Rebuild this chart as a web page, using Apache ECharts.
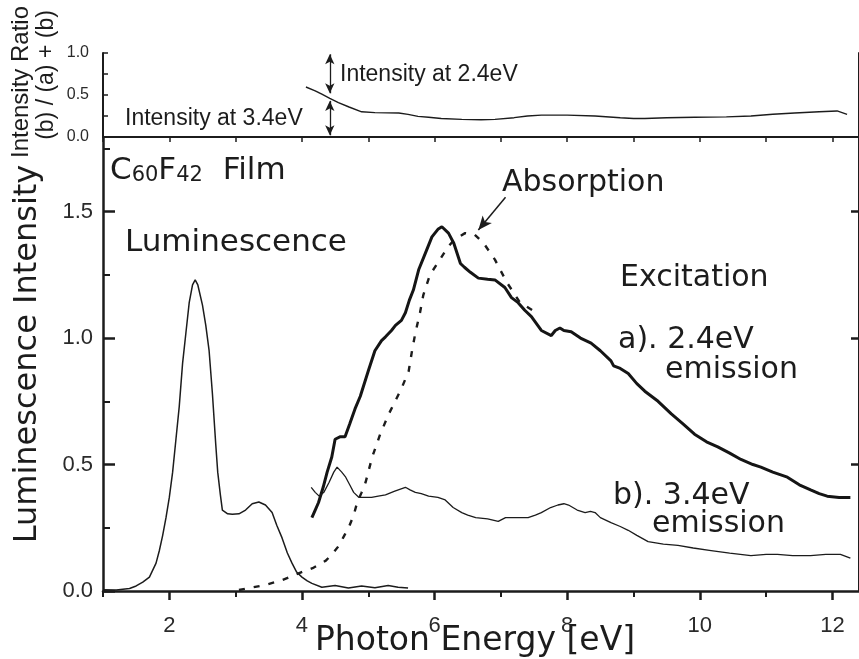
<!DOCTYPE html>
<html><head><meta charset="utf-8">
<script src="https://cdn.jsdelivr.net/npm/echarts@6/dist/echarts.min.js"></script>
<style>html,body{margin:0;padding:0;background:#fff}#c{width:859px;height:659px}</style>
</head><body><div id="c"></div>
<script>
// ---- data (photon energy [eV], intensity) ----
const luminescence = [[1.0,0.005],[1.2,0.004],[1.4,0.01],[1.5,0.02],[1.6,0.035],[1.7,0.055],[1.8,0.11],[1.85,0.16],[1.9,0.22],[1.95,0.29],[2.0,0.37],[2.05,0.47],[2.1,0.6],[2.15,0.73],[2.2,0.9],[2.25,1.02],[2.3,1.14],[2.35,1.21],[2.39,1.23],[2.43,1.21],[2.5,1.13],[2.55,1.05],[2.6,0.95],[2.65,0.78],[2.7,0.58],[2.73,0.47],[2.77,0.38],[2.8,0.32],[2.88,0.305],[2.95,0.303],[3.05,0.305],[3.15,0.32],[3.25,0.345],[3.35,0.352],[3.45,0.34],[3.55,0.31],[3.62,0.26],[3.7,0.21],[3.78,0.15],[3.85,0.11],[3.92,0.075],[4.0,0.055],[4.08,0.04],[4.15,0.03],[4.3,0.015],[4.5,0.022],[4.7,0.012],[4.9,0.02],[5.1,0.013],[5.3,0.022],[5.45,0.015],[5.6,0.012]];
const excitationA = [[4.15,0.29],[4.2,0.32],[4.25,0.35],[4.32,0.41],[4.38,0.47],[4.45,0.53],[4.5,0.6],[4.58,0.61],[4.65,0.61],[4.72,0.66],[4.8,0.72],[4.88,0.77],[5.0,0.87],[5.1,0.95],[5.2,0.99],[5.26,1.005],[5.35,1.03],[5.41,1.05],[5.5,1.07],[5.56,1.10],[5.62,1.15],[5.68,1.19],[5.76,1.27],[5.86,1.335],[5.96,1.40],[6.05,1.43],[6.11,1.44],[6.21,1.415],[6.29,1.375],[6.39,1.295],[6.45,1.28],[6.54,1.26],[6.66,1.237],[6.8,1.233],[6.91,1.23],[7.06,1.20],[7.16,1.16],[7.26,1.14],[7.36,1.11],[7.46,1.085],[7.61,1.03],[7.76,1.01],[7.82,1.03],[7.89,1.04],[7.95,1.03],[8.06,1.025],[8.2,1.0],[8.36,0.98],[8.5,0.95],[8.66,0.91],[8.7,0.89],[8.8,0.88],[8.92,0.86],[9.05,0.82],[9.17,0.79],[9.37,0.75],[9.57,0.70],[9.75,0.66],[9.92,0.62],[10.1,0.59],[10.27,0.57],[10.45,0.545],[10.62,0.52],[10.8,0.5],[10.92,0.49],[11.1,0.47],[11.32,0.45],[11.5,0.42],[11.67,0.40],[11.8,0.385],[11.92,0.375],[12.1,0.37],[12.27,0.37]];
const excitationB = [[4.14,0.41],[4.2,0.39],[4.26,0.375],[4.33,0.39],[4.41,0.43],[4.48,0.47],[4.53,0.49],[4.6,0.47],[4.66,0.45],[4.72,0.42],[4.78,0.39],[4.86,0.37],[4.95,0.37],[5.05,0.37],[5.15,0.375],[5.26,0.38],[5.4,0.395],[5.56,0.41],[5.63,0.40],[5.71,0.39],[5.8,0.385],[5.91,0.375],[6.05,0.37],[6.16,0.36],[6.28,0.33],[6.41,0.31],[6.5,0.3],[6.62,0.29],[6.8,0.285],[6.96,0.275],[7.07,0.29],[7.25,0.29],[7.41,0.29],[7.52,0.30],[7.61,0.31],[7.75,0.33],[7.86,0.34],[7.95,0.345],[8.02,0.34],[8.15,0.32],[8.27,0.31],[8.35,0.315],[8.42,0.31],[8.5,0.29],[8.66,0.27],[8.8,0.255],[8.92,0.24],[9.05,0.22],[9.22,0.195],[9.45,0.185],[9.67,0.18],[9.9,0.17],[10.17,0.16],[10.45,0.15],[10.77,0.14],[11.0,0.145],[11.17,0.145],[11.4,0.14],[11.67,0.14],[11.9,0.145],[12.12,0.145],[12.27,0.13]];
const absorption = [[3.05,0.004],[3.25,0.014],[3.45,0.024],[3.7,0.043],[3.95,0.07],[4.16,0.09],[4.36,0.12],[4.47,0.15],[4.56,0.18],[4.64,0.22],[4.71,0.254],[4.78,0.3],[4.83,0.347],[4.9,0.39],[4.96,0.43],[5.06,0.53],[5.18,0.62],[5.31,0.70],[5.5,0.80],[5.61,0.87],[5.66,0.95],[5.71,1.02],[5.78,1.10],[5.83,1.17],[5.93,1.25],[6.08,1.31],[6.2,1.36],[6.3,1.39],[6.46,1.415],[6.6,1.41],[6.74,1.375],[6.91,1.31],[7.09,1.22],[7.29,1.14],[7.54,1.10]];
const ratio = [[4.06,0.595],[4.2,0.55],[4.3,0.51],[4.42,0.46],[4.55,0.41],[4.71,0.357],[4.9,0.30],[5.1,0.29],[5.46,0.285],[5.6,0.27],[5.75,0.245],[5.91,0.235],[6.1,0.22],[6.41,0.21],[6.7,0.205],[6.91,0.21],[7.2,0.23],[7.4,0.25],[7.61,0.26],[8.0,0.26],[8.42,0.25],[8.8,0.23],[9.0,0.22],[9.17,0.22],[9.5,0.23],[9.92,0.235],[10.4,0.24],[10.77,0.25],[11.1,0.27],[11.43,0.285],[11.8,0.3],[12.07,0.31],[12.22,0.27]];
const absorptionArrow = [[7.07,1.557],[6.66,1.427]];
const ratioMarker = 4.42;
const xAllTicks = [1,2,3,4,5,6,7,8,9,10,11,12];
const xMajorTicks = [2,4,6,8,10,12];
const xMinorTicks = [1,3,5,7,9,11];
const yMajorTicks = [0,0.5,1.0,1.5];
const yMinorTicks = [0.25,0.75,1.25,1.75];
const yRightTicks = [0.5,1.0,1.5];
const ratioTicks = [0,0.25,0.5,0.75,1.0];
const ratioLabels = [0,0.5,1.0];

const INK = '#1c1c1c';
const chart = echarts.init(document.getElementById('c'), null, {renderer:'canvas'});
const line = (w) => ({show:true, lineStyle:{color:INK, width:w}});
const noSplit = {show:false};
const X_MIN = 1, X_MAX = 12.4;
const base = {type:'value', min:X_MIN, max:X_MAX, splitLine:noSplit};

const option = {
  animation:false,
  backgroundColor:'#fff',
  grid:[
    {left:103, top:53, width:758, height:84},
    {left:103, top:137, width:758, height:454}
  ],
  xAxis:[
    Object.assign({}, base, {gridIndex:0, position:'bottom', axisLine:line(2),
      axisTick:{show:true, inside:false, length:5, customValues:xAllTicks, lineStyle:{color:INK, width:1.5}},
      axisLabel:{show:false}}),
    Object.assign({}, base, {gridIndex:0, position:'top', axisLine:line(2),
      axisTick:{show:true, inside:true, length:5, customValues:xAllTicks, lineStyle:{color:INK, width:1.5}},
      axisLabel:{show:false}}),
    Object.assign({}, base, {gridIndex:1, position:'bottom', axisLine:line(2.5),
      axisTick:{show:true, inside:false, length:9, customValues:xMajorTicks, lineStyle:{color:INK, width:2.5}},
      axisLabel:{show:true, customValues:xMajorTicks, fontSize:22, fontFamily:'Liberation Sans', color:'#2a2a2a', margin:24}}),
    Object.assign({}, base, {gridIndex:1, position:'bottom', axisLine:{show:false},
      axisTick:{show:true, inside:false, length:6, customValues:xMinorTicks, lineStyle:{color:INK, width:2}},
      axisLabel:{show:false}})
  ],
  yAxis:[
    {type:'value', gridIndex:0, min:0, max:1, position:'left', splitLine:noSplit, axisLine:line(2),
      axisTick:{show:true, inside:true, length:5, customValues:ratioTicks, lineStyle:{color:INK, width:1.5}},
      axisLabel:{show:true, customValues:ratioLabels, formatter:v=>Number(v).toFixed(1), fontSize:16, fontFamily:'Liberation Sans', color:'#2a2a2a', margin:14}},
    {type:'value', gridIndex:0, min:0, max:1, position:'right', splitLine:noSplit, axisLine:line(2),
      axisTick:{show:false}, axisLabel:{show:false}},
    {type:'value', gridIndex:1, min:0, max:1.795, position:'left', splitLine:noSplit, axisLine:line(2.5),
      axisTick:{show:true, inside:true, length:12, customValues:yMajorTicks, lineStyle:{color:INK, width:2.5}},
      axisLabel:{show:true, customValues:yMajorTicks, formatter:v=>Number(v).toFixed(1), fontSize:22, fontFamily:'Liberation Sans', color:'#2a2a2a', margin:10}},
    {type:'value', gridIndex:1, min:0, max:1.795, position:'left', splitLine:noSplit, axisLine:{show:false},
      axisTick:{show:true, inside:true, length:7, customValues:yMinorTicks, lineStyle:{color:INK, width:2}},
      axisLabel:{show:false}},
    {type:'value', gridIndex:1, min:0, max:1.795, position:'right', splitLine:noSplit, axisLine:line(2),
      axisTick:{show:true, inside:true, length:8, customValues:yRightTicks, lineStyle:{color:INK, width:2.5}},
      axisLabel:{show:false}}
  ],
  series:[
    {name:'Intensity ratio', type:'line', xAxisIndex:0, yAxisIndex:0, data:ratio, symbol:'none', smooth:false,
      lineStyle:{color:INK, width:1.4},
      markLine:{silent:true, animation:false, symbol:['arrow','arrow'], symbolSize:[7,10],
        label:{show:false}, lineStyle:{color:INK, width:1.3, type:'solid'},
        data:[[{coord:[ratioMarker,0.52]},{coord:[ratioMarker,0.985]}],[{coord:[ratioMarker,0.43]},{coord:[ratioMarker,0.02]}]]}},
    {name:'Luminescence', type:'line', xAxisIndex:2, yAxisIndex:2, data:luminescence, symbol:'none',
      lineStyle:{color:INK, width:1.5}},
    {name:'Absorption', type:'line', xAxisIndex:2, yAxisIndex:2, data:absorption, symbol:'none',
      lineStyle:{color:INK, width:2.4, type:[6,9]},
      markLine:{silent:true, animation:false, symbol:['none','arrow'], symbolSize:[9,14],
        label:{show:false}, lineStyle:{color:INK, width:1.5, type:'solid'},
        data:[[{coord:absorptionArrow[0]},{coord:absorptionArrow[1]}]]}},
    {name:'a) 2.4eV emission', type:'line', xAxisIndex:2, yAxisIndex:2, data:excitationA, symbol:'none',
      lineStyle:{color:'#151515', width:3}},
    {name:'b) 3.4eV emission', type:'line', xAxisIndex:2, yAxisIndex:2, data:excitationB, symbol:'none',
      lineStyle:{color:INK, width:1.3}}
  ],
  graphic:[]
};

const DJ = 'DejaVu Sans', LS = 'Liberation Sans';
function txt(text, x, y, size, family, align) {
  return {type:'text', x:x, y:y, silent:true, z:100,
    style:{text:text, fontSize:size, fontFamily:family, fill:INK, align:align||'left', verticalAlign:'middle'}};
}
const g = option.graphic;
g.push({type:'text', x:110, y:171, silent:true, z:100, style:{
  text:'{a|C}{b|60}{a|F}{b|42}{a|  Film}', fill:INK, align:'left', verticalAlign:'middle',
  rich:{a:{fontSize:31, fontFamily:DJ, fill:INK, verticalAlign:'bottom'},
        b:{fontSize:21, fontFamily:DJ, fill:INK, verticalAlign:'bottom'}}}});
g.push(txt('Luminescence', 125, 243, 31, DJ));
g.push(txt('Absorption', 502, 183, 30, DJ));
g.push(txt('Excitation', 620, 278, 30, DJ));
g.push(txt('a). 2.4eV', 618, 340, 30, DJ));
g.push(txt('emission', 665, 370, 30, DJ));
g.push(txt('b). 3.4eV', 613, 496, 30, DJ));
g.push(txt('emission', 652, 524, 30, DJ));
g.push(txt('Intensity at 2.4eV', 340, 75, 23, LS));
g.push(txt('Intensity at 3.4eV', 125, 119, 23, LS));
g.push(txt('Photon Energy [eV]', 475, 641, 33, DJ, 'center'));
g.push({type:'text', x:28, y:354, rotation:Math.PI/2, silent:true, z:100,
  style:{text:'Luminescence Intensity', fontSize:32, fontFamily:DJ, fill:INK, align:'center', verticalAlign:'middle'}});
g.push({type:'text', x:21, y:82, rotation:Math.PI/2, silent:true, z:100,
  style:{text:'Intensity Ratio', fontSize:24, fontFamily:LS, fill:INK, align:'center', verticalAlign:'middle'}});
g.push({type:'text', x:47, y:75, rotation:Math.PI/2, silent:true, z:100,
  style:{text:'(b) / (a) + (b)', fontSize:23, fontFamily:LS, fill:INK, align:'center', verticalAlign:'middle'}});

chart.setOption(option);
</script>
</body></html>
